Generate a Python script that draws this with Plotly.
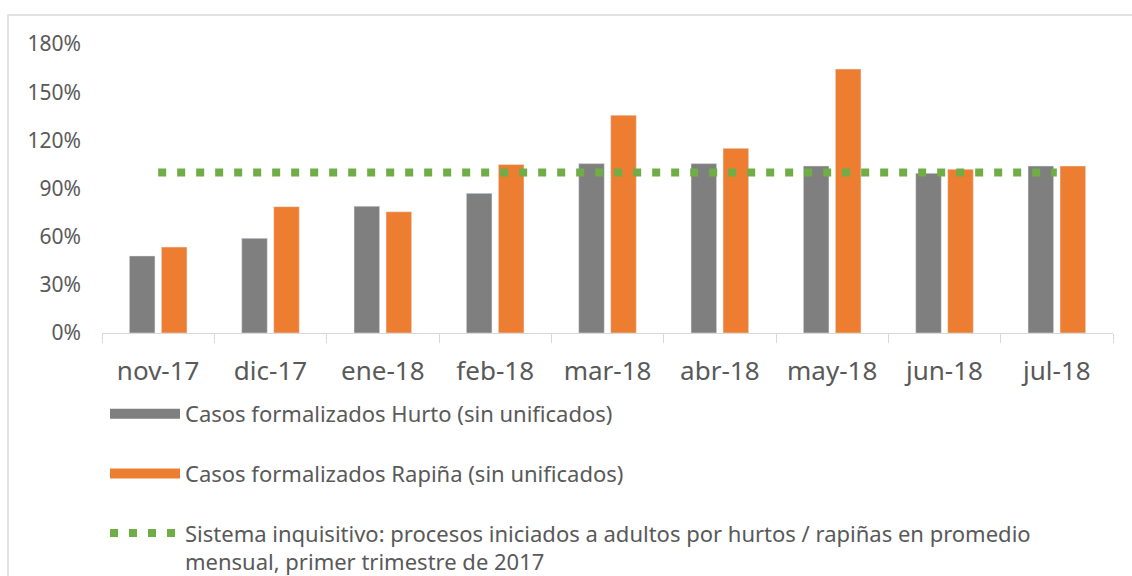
import plotly.graph_objects as go

categories = ["nov-17", "dic-17", "ene-18", "feb-18", "mar-18", "abr-18", "may-18", "jun-18", "jul-18"]
hurto = [0.48, 0.59, 0.79, 0.87, 1.055, 1.055, 1.04, 0.995, 1.04]
rapina = [0.535, 0.787, 0.755, 1.05, 1.357, 1.15, 1.644, 1.02, 1.04]
inquisitivo = [1.0, 1.0, 1.0, 1.0, 1.0, 1.0, 1.0, 1.0, 1.0]
y_ticks = [0, 0.3, 0.6, 0.9, 1.2, 1.5, 1.8]

name_hurto = "Casos formalizados Hurto (sin unificados)"
name_rapina = "Casos formalizados Rapiña (sin unificados)"
name_inq = ("Sistema inquisitivo: procesos iniciados a adultos por hurtos / rapiñas en promedio"
            "<br>mensual, primer trimestre de 2017")

GRAY = "#7f7f7f"
ORANGE = "#ed7d31"
GREEN = "#70ad47"
TEXT = "#595959"
AXIS = "#d9d9d9"
FONT = "Noto Sans"

fig = go.Figure()
fig.add_trace(go.Bar(x=categories, y=hurto, name=name_hurto, marker_color=GRAY,
                     legendgroup="a", showlegend=False))
fig.add_trace(go.Bar(x=categories, y=rapina, name=name_rapina, marker_color=ORANGE,
                     legendgroup="b", showlegend=False))
# legend keys drawn as wide swatches, like the reference
fig.add_trace(go.Scatter(x=[None], y=[None], name=name_hurto, mode="lines",
                         line=dict(color=GRAY, width=15), legendgroup="a"))
fig.add_trace(go.Scatter(x=[None], y=[None], name=name_rapina, mode="lines",
                         line=dict(color=ORANGE, width=15), legendgroup="b"))
fig.add_trace(go.Scatter(x=categories, y=inquisitivo, name=name_inq, mode="lines",
                         line=dict(color=GREEN, width=8, dash="8px,11px"),
                         legendgroup="c"))

W, H = 1132, 576
L, R, T, B = 102, 19, 44, 243
plot_w = W - L - R
plot_h = H - T - B

def px_x(p):
    return (p - L) / plot_w

def px_y(p):
    return (H - B - p) / plot_h

fig.update_layout(
    width=W, height=H,
    margin=dict(l=L, r=R, t=T, b=B, pad=0, autoexpand=False),
    paper_bgcolor="white", plot_bgcolor="white",
    font=dict(family=FONT, color=TEXT),
    barmode="group", bargap=0.43, bargroupgap=0.2,
    showlegend=True,
    legend=dict(
        orientation="v", xref="container", yref="container",
        x=105 / W, y=1 - 393 / H, xanchor="left", yanchor="top",
        font=dict(size=22, color=TEXT, family=FONT),
        itemwidth=70, tracegroupgap=28, valign="top",
        bgcolor="rgba(0,0,0,0)",
    ),
    xaxis=dict(
        showline=True, linecolor=AXIS, linewidth=1.3,
        ticks="outside", tickson="boundaries", ticklen=9, tickcolor=AXIS, tickwidth=1.3,
        tickfont=dict(size=26, color=TEXT), ticklabelstandoff=15,
        showgrid=False, zeroline=False, automargin=False,
    ),
    yaxis=dict(
        range=[0, 1.8], tickvals=y_ticks, tickformat=".0%",
        showgrid=False, zeroline=False, showline=False, automargin=False,
        tickfont=dict(size=21, color=TEXT), ticklabelstandoff=20,
    ),
    shapes=[dict(type="rect", xref="paper", yref="paper",
                 x0=px_x(8), x1=px_x(1150), y0=px_y(15), y1=px_y(700),
                 line=dict(color=AXIS, width=1.5), layer="below")],
)

fig.write_html("out.html", config={"displayModeBar": False},
               post_script="document.body.style.margin='0';document.body.style.overflow='hidden';")
